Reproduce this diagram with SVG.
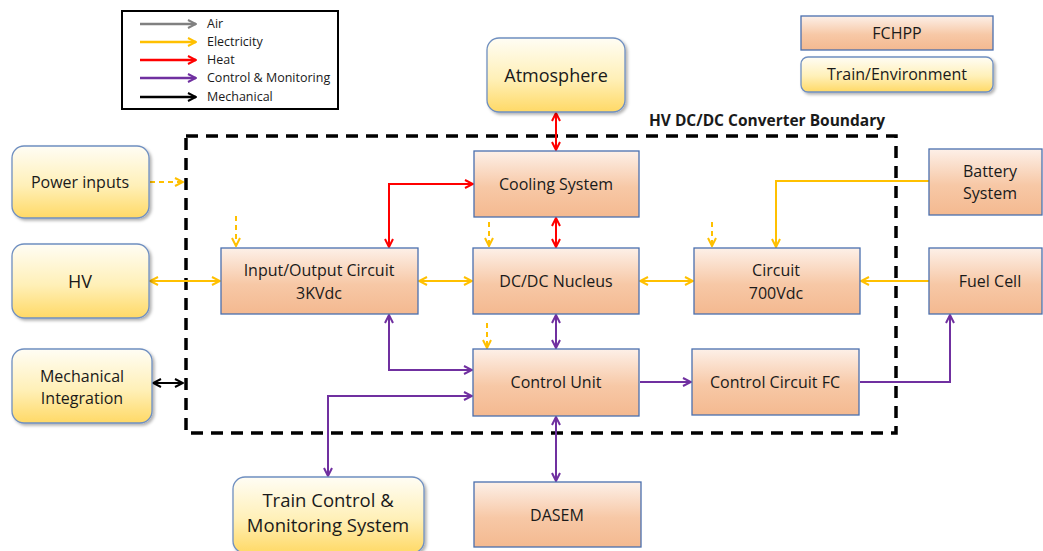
<svg xmlns="http://www.w3.org/2000/svg" width="1043" height="551" viewBox="0 0 1043 551">
<defs>
<linearGradient id="gO" x1="0" y1="0" x2="0" y2="1"><stop offset="0" stop-color="#fdf0e8"/><stop offset="0.55" stop-color="#f7c8a6"/><stop offset="1" stop-color="#f4b990"/></linearGradient>
<linearGradient id="gY" x1="0" y1="0" x2="0" y2="1"><stop offset="0" stop-color="#fffdf5"/><stop offset="0.55" stop-color="#fff0b8"/><stop offset="1" stop-color="#ffd966"/></linearGradient>
<filter id="sh" x="-10%" y="-10%" width="130%" height="130%"><feDropShadow dx="2" dy="2" stdDeviation="1.5" flood-color="#000" flood-opacity="0.3"/></filter>
<marker id="aG" viewBox="0 0 10 10" refX="9" refY="5" markerWidth="10" markerHeight="10" markerUnits="userSpaceOnUse" orient="auto-start-reverse"><path d="M1,1 L9,5 L1,9" fill="none" stroke="#808080" stroke-width="2"/></marker>
<marker id="aY" viewBox="0 0 10 10" refX="9" refY="5" markerWidth="10" markerHeight="10" markerUnits="userSpaceOnUse" orient="auto-start-reverse"><path d="M1,1 L9,5 L1,9" fill="none" stroke="#ffc000" stroke-width="2"/></marker>
<marker id="aR" viewBox="0 0 10 10" refX="9" refY="5" markerWidth="10" markerHeight="10" markerUnits="userSpaceOnUse" orient="auto-start-reverse"><path d="M1,1 L9,5 L1,9" fill="none" stroke="#ff0000" stroke-width="2"/></marker>
<marker id="aP" viewBox="0 0 10 10" refX="9" refY="5" markerWidth="10" markerHeight="10" markerUnits="userSpaceOnUse" orient="auto-start-reverse"><path d="M1,1 L9,5 L1,9" fill="none" stroke="#7030a0" stroke-width="2"/></marker>
<marker id="aK" viewBox="0 0 10 10" refX="9" refY="5" markerWidth="10" markerHeight="10" markerUnits="userSpaceOnUse" orient="auto-start-reverse"><path d="M1,1 L9,5 L1,9" fill="none" stroke="#000" stroke-width="2"/></marker>
</defs>
<style>
.o{fill:url(#gO);stroke:#4a6fae;stroke-width:1.3}
.y{fill:url(#gY);stroke:#6f8fc0;stroke-width:1.3;filter:url(#sh)}
text{font-family:"Open Sans","Liberation Sans",sans-serif;fill:#1a1a1a;text-anchor:middle}
.t{font-size:16px}
.lg{font-size:12.5px;text-anchor:start}
.c{fill:none;stroke-width:2}
.cy{stroke:#ffc000;marker-end:url(#aY)}
.cr{stroke:#ff0000;marker-end:url(#aR)}
.cp{stroke:#7030a0;marker-end:url(#aP)}
.d{stroke-dasharray:5,4}
</style>
<rect width="1043" height="551" fill="#fff"/>

<g id="legend">
<rect x="122" y="11" width="216" height="98" fill="#fff" stroke="#000" stroke-width="2"/>
<line x1="140" y1="24" x2="196" y2="24" stroke="#808080" stroke-width="2.5" marker-end="url(#aG)"/>
<line x1="140" y1="42" x2="196" y2="42" stroke="#ffc000" stroke-width="2.5" marker-end="url(#aY)"/>
<line x1="140" y1="60" x2="196" y2="60" stroke="#ff0000" stroke-width="2.5" marker-end="url(#aR)"/>
<line x1="140" y1="78" x2="196" y2="78" stroke="#7030a0" stroke-width="2.5" marker-end="url(#aP)"/>
<line x1="140" y1="97" x2="196" y2="97" stroke="#000" stroke-width="2.5" marker-end="url(#aK)"/>
<text class="lg" x="207" y="28">Air</text>
<text class="lg" x="207" y="46">Electricity</text>
<text class="lg" x="207" y="64">Heat</text>
<text class="lg" x="207" y="82">Control &amp; Monitoring</text>
<text class="lg" x="207" y="101">Mechanical</text>
</g>

<g id="key-fchpp"><rect class="o" x="801" y="16" width="192" height="34"/><text class="t" x="897" y="39">FCHPP</text></g>
<g id="key-train"><rect class="y" x="801" y="57" width="192" height="35" rx="7"/><text class="t" x="897" y="80">Train/Environment</text></g>

<g id="boundary">
<rect x="186" y="136" width="710" height="297" fill="none" stroke="#000" stroke-width="3.5" stroke-dasharray="12,8"/>
<text x="767" y="126" style="font-size:15.5px;font-weight:bold">HV DC/DC Converter Boundary</text>
</g>

<g id="connectors">
<line class="c cr" x1="556" y1="113" x2="556" y2="150" style="marker-start:url(#aR)"/>
<path class="c cr" d="M389,247 V184 H473" style="marker-start:url(#aR)"/>
<line class="c cr" x1="556" y1="218" x2="556" y2="247" style="marker-start:url(#aR)"/>
<line class="c cy d" x1="236" y1="216" x2="236" y2="246"/>
<line class="c cy d" x1="489" y1="222" x2="489" y2="246"/>
<line class="c cy d" x1="487" y1="323" x2="487" y2="348"/>
<line class="c cy d" x1="712" y1="222" x2="712" y2="246"/>
<line class="c cy d" x1="150" y1="182" x2="183" y2="182"/>
<line class="c cy" x1="150" y1="281" x2="220" y2="281" style="marker-start:url(#aY)"/>
<line class="c cy" x1="419" y1="281" x2="472" y2="281" style="marker-start:url(#aY)"/>
<line class="c cy" x1="640" y1="281" x2="693" y2="281" style="marker-start:url(#aY)"/>
<line class="c cy" x1="929" y1="281" x2="861" y2="281"/>
<path class="c cy" d="M929,181 H776 V247"/>
<line class="c cp" x1="556" y1="315" x2="556" y2="348" style="marker-start:url(#aP)"/>
<path class="c cp" d="M389,315 V370 H472" style="marker-start:url(#aP)"/>
<path class="c cp" d="M472,396 H328 V476" style="marker-start:url(#aP)"/>
<line class="c cp" x1="556" y1="417" x2="556" y2="481" style="marker-start:url(#aP)"/>
<line class="c cp" x1="640" y1="382" x2="691" y2="382"/>
<path class="c cp" d="M860,382 H950 V315"/>
<line class="c" x1="153" y1="383" x2="183" y2="383" stroke="#000" marker-start="url(#aK)" marker-end="url(#aK)"/>
</g>

<g id="atmosphere"><rect class="y" x="487" y="38" width="138" height="74" rx="12"/><text x="556" y="82" style="font-size:18px">Atmosphere</text></g>
<g id="power-inputs"><rect class="y" x="12" y="146" width="137" height="72" rx="12"/><text class="t" x="80" y="188">Power inputs</text></g>
<g id="hv"><rect class="y" x="12" y="244" width="137" height="74" rx="12"/><text x="80" y="288" style="font-size:18px">HV</text></g>
<g id="mechanical"><rect class="y" x="12" y="349" width="140" height="74" rx="12"/><text class="t" x="82" y="382">Mechanical</text><text class="t" x="82" y="404">Integration</text></g>
<g id="io-circuit"><rect class="o" x="221" y="248" width="197" height="66"/><text class="t" x="319" y="276">Input/Output Circuit</text><text class="t" x="319" y="299">3KVdc</text></g>
<g id="cooling"><rect class="o" x="474" y="151" width="165" height="66"/><text class="t" x="556" y="190">Cooling System</text></g>
<g id="dcdc"><rect class="o" x="473" y="248" width="166" height="66"/><text class="t" x="556" y="287">DC/DC Nucleus</text></g>
<g id="control-unit"><rect class="o" x="473" y="349" width="166" height="67"/><text class="t" x="556" y="388">Control Unit</text></g>
<g id="circuit700"><rect class="o" x="694" y="248" width="166" height="66"/><text class="t" x="776" y="276">Circuit</text><text class="t" x="776" y="299">700Vdc</text></g>
<g id="control-fc"><rect class="o" x="692" y="349" width="167" height="66"/><text class="t" x="775" y="388">Control Circuit FC</text></g>
<g id="battery"><rect class="o" x="929" y="149" width="113" height="66"/><text class="t" x="990" y="177">Battery</text><text class="t" x="990" y="199">System</text></g>
<g id="fuel-cell"><rect class="o" x="929" y="248" width="113" height="66"/><text class="t" x="990" y="287">Fuel Cell</text></g>
<g id="dasem"><rect class="o" x="474" y="482" width="167" height="65"/><text class="t" x="557" y="521">DASEM</text></g>
<g id="train-control"><rect class="y" x="233" y="477" width="191" height="76" rx="12"/><text x="328" y="507" style="font-size:18.5px">Train Control &amp;</text><text x="328" y="532" style="font-size:18.5px">Monitoring System</text></g>
</svg>
